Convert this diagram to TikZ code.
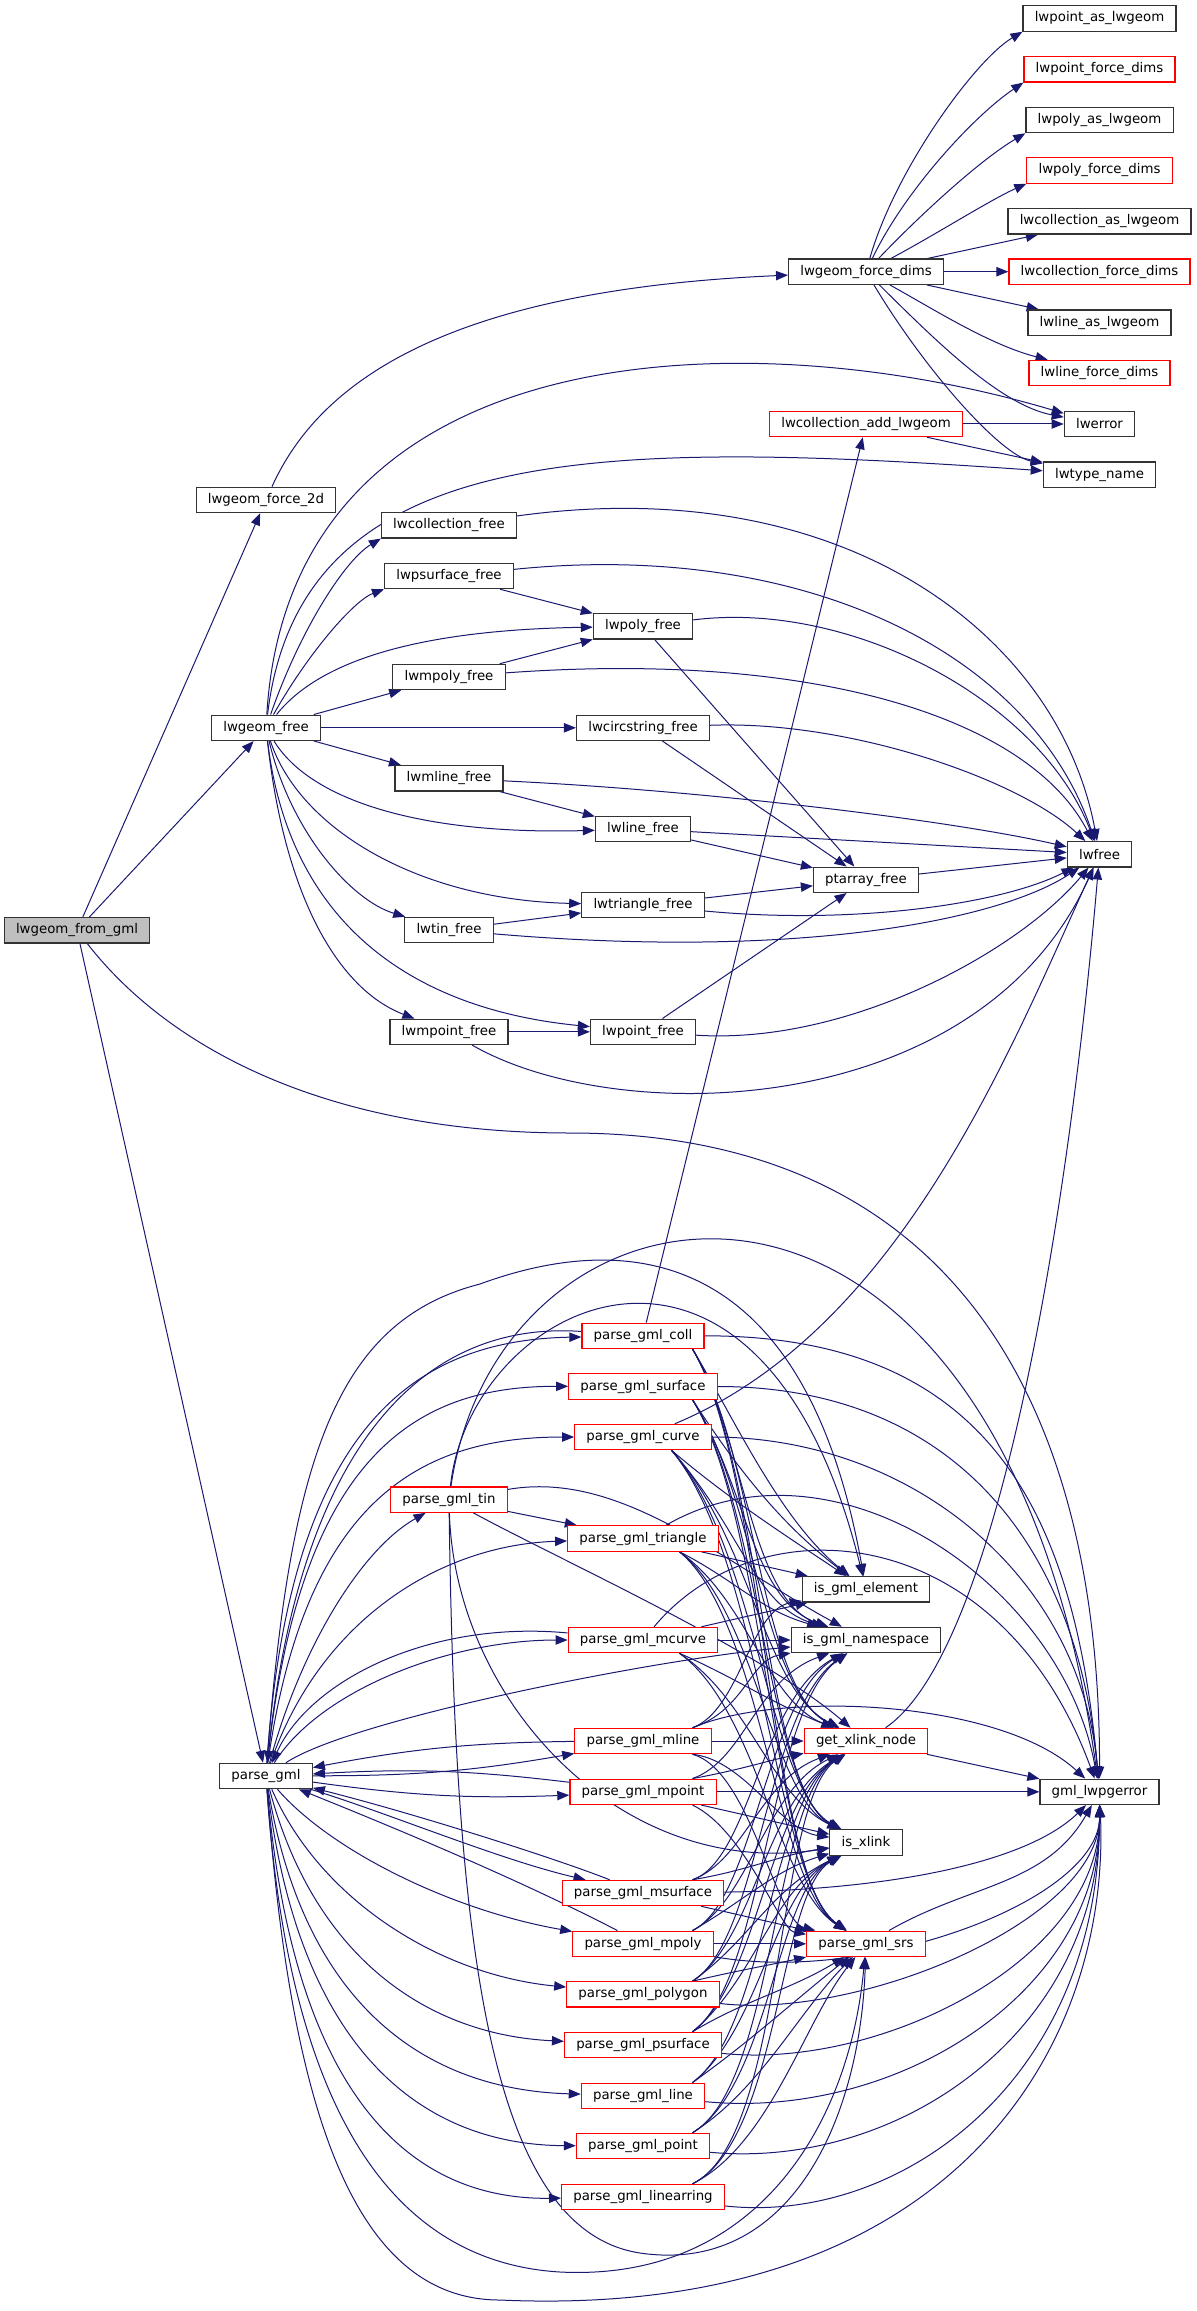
\documentclass[tikz,border=0pt]{standalone}
\usepackage{fontspec}
\setmainfont{DejaVu Sans}
\usetikzlibrary{arrows.meta}
\definecolor{edgeblue}{HTML}{191970}
\definecolor{boxline}{HTML}{333333}
\definecolor{selgray}{HTML}{BFBFBF}
\pgfdeclarelayer{edges}
\pgfsetlayers{edges,main}

\begin{document}
\begin{tikzpicture}[x=0.75pt, y=-0.75pt,
    fn/.style={draw=boxline, line width=0.9pt, fill=white, inner xsep=8.8pt, inner ysep=0pt,
      minimum height=19pt, font=\fontsize{10pt}{12pt}\selectfont},
    fnred/.style={fn, draw=red},
    fnsel/.style={fn, fill=selgray},
    call/.style={draw=edgeblue, line width=0.75pt, -{Triangle[length=9pt,width=7pt]}}]
    \useasboundingbox (0,0) rectangle (1196,2311);

    % right column
    \node[fn] (PAL) at (1099.5,18.5) {lwpoint\_as\_lwgeom};
    \node[fnred] (PFD) at (1099.5,69.3) {lwpoint\_force\_dims};
    \node[fn] (YAL) at (1099.5,120) {lwpoly\_as\_lwgeom};
    \node[fnred] (YFD) at (1099.5,170.5) {lwpoly\_force\_dims};
    \node[fn] (CAL) at (1099.5,221.4) {lwcollection\_as\_lwgeom};
    \node[fnred] (CFD) at (1099.5,271.7) {lwcollection\_force\_dims};
    \node[fn] (LAL) at (1099.5,322.6) {lwline\_as\_lwgeom};
    \node[fnred] (LFD) at (1099.5,373) {lwline\_force\_dims};
    \node[fn] (ERR) at (1099.5,424) {lwerror};
    \node[fn] (TN) at (1099.5,474.7) {lwtype\_name};
    \node[fn] (FREE) at (1099.5,854.3) {lwfree};
    \node[fn] (ERRG) at (1099.5,1791.8) {gml\_lwpgerror};

    \node[fn] (FD) at (866,271.7) {lwgeom\_force\_dims};
    \node[fnred] (CADD) at (866,424) {lwcollection\_add\_lwgeom};
    \node[fn] (PAF) at (866,879.8) {ptarray\_free};
    \node[fn] (ELE) at (866,1589.3) {is\_gml\_element};
    \node[fn] (NS) at (866,1640) {is\_gml\_namespace};
    \node[fnred] (XLN) at (866,1741) {get\_xlink\_node};
    \node[fn] (ISX) at (866,1842.5) {is\_xlink};
    \node[fnred] (SRS) at (866,1943.8) {parse\_gml\_srs};

    \node[fn] (YF) at (643,626.3) {lwpoly\_free};
    \node[fn] (CSF) at (643,727.8) {lwcircstring\_free};
    \node[fn] (LF) at (643,829) {lwline\_free};
    \node[fn] (TRF) at (643,905) {lwtriangle\_free};
    \node[fn] (PF) at (643,1031.8) {lwpoint\_free};
    \node[fnred] (COLL) at (643,1335.8) {parse\_gml\_coll};
    \node[fnred] (SURF) at (643,1386.5) {parse\_gml\_surface};
    \node[fnred] (CURV) at (643,1437) {parse\_gml\_curve};
    \node[fnred] (TRI) at (643,1538.5) {parse\_gml\_triangle};
    \node[fnred] (MCUR) at (643,1640) {parse\_gml\_mcurve};
    \node[fnred] (MLIN) at (643,1741) {parse\_gml\_mline};
    \node[fnred] (MPT) at (643,1791.8) {parse\_gml\_mpoint};
    \node[fnred] (MSRF) at (643,1893) {parse\_gml\_msurface};
    \node[fnred] (MPLY) at (643,1943.8) {parse\_gml\_mpoly};
    \node[fnred] (PLY) at (643,1994.4) {parse\_gml\_polygon};
    \node[fnred] (PSRF) at (643,2045) {parse\_gml\_psurface};
    \node[fnred] (LIN) at (643,2095.8) {parse\_gml\_line};
    \node[fnred] (PT) at (643,2146) {parse\_gml\_point};
    \node[fnred] (LR) at (643,2197) {parse\_gml\_linearring};

    \node[fn] (CFR) at (449,525.3) {lwcollection\_free};
    \node[fn] (PSF) at (449,576) {lwpsurface\_free};
    \node[fn] (MYF) at (449,677) {lwmpoly\_free};
    \node[fn] (MLF) at (449,778.3) {lwmline\_free};
    \node[fn] (TINF) at (449,930) {lwtin\_free};
    \node[fn] (MPF) at (449,1031.8) {lwmpoint\_free};
    \node[fnred] (TIN) at (449,1499.6) {parse\_gml\_tin};

    \node[fn] (F2D) at (266,500) {lwgeom\_force\_2d};
    \node[fn] (GFR) at (266,727.8) {lwgeom\_free};
    \node[fn] (PG) at (266,1776) {parse\_gml};
    \node[fnsel] (FG) at (77,930.3) {lwgeom\_from\_gml};

    \begin{pgfonlayer}{edges}
    % lwgeom_from_gml
    \draw[call] (FG) -- (F2D);
    \draw[call] (FG) -- (GFR);
    \draw[call] (FG) -- (PG);
    \draw[call] (FG) .. controls (170,1050) and (330,1133) .. (570,1133) .. controls (950,1133) and (1100,1400) .. (ERRG);

    % force dims
    \draw[call] (F2D) .. controls (320,380) and (450,290) .. (FD);
    \draw[call] (FD) .. controls (895,170) and (975,60) .. (PAL.south west);
    \draw[call] (FD) .. controls (905,190) and (975,115) .. (PFD.south west);
    \draw[call] (FD) .. controls (920,215) and (980,160) .. (YAL.south west);
    \draw[call] (FD) .. controls (935,235) and (990,200) .. (YFD.south west);
    \draw[call] (FD) -- (CAL);
    \draw[call] (FD) -- (CFD);
    \draw[call] (FD) -- (LAL);
    \draw[call] (FD) .. controls (935,310) and (990,345) .. (LFD);
    \draw[call] (FD) .. controls (935,340) and (1000,405) .. (ERR);
    \draw[call] (FD) .. controls (925,370) and (1000,455) .. (TN);
    \draw[call] (CADD) -- (ERR);
    \draw[call] (CADD) -- (TN);

    % lwgeom_free
    \draw[call] (GFR) .. controls (290,330) and (750,320) .. (ERR);
    \draw[call] (GFR) .. controls (300,440) and (600,440) .. (TN);
    \draw[call] (GFR) .. controls (300,630) and (345,560) .. (CFR.south west);
    \draw[call] (GFR) .. controls (310,650) and (355,600) .. (PSF.south west);
    \draw[call] (GFR) .. controls (320,660) and (420,630) .. (YF);
    \draw[call] (GFR) -- (MYF);
    \draw[call] (GFR) -- (CSF);
    \draw[call] (GFR) -- (MLF);
    \draw[call] (GFR) .. controls (310,800) and (420,835) .. (LF);
    \draw[call] (GFR) .. controls (300,830) and (420,900) .. (TRF);
    \draw[call] (GFR) .. controls (290,830) and (350,900) .. (TINF);
    \draw[call] (GFR) .. controls (290,930) and (420,1010) .. (PF);
    \draw[call] (GFR) .. controls (285,900) and (340,990) .. (MPF);

    % the free functions
    \draw[call] (CFR) .. controls (850,470) and (1060,640) .. (FREE);
    \draw[call] (PSF) .. controls (800,540) and (1030,650) .. (FREE);
    \draw[call] (PSF) -- (YF);
    \draw[call] (MYF) -- (YF);
    \draw[call] (MYF) .. controls (820,650) and (1030,720) .. (FREE);
    \draw[call] (YF) .. controls (850,600) and (1040,700) .. (FREE);
    \draw[call] (YF) -- (PAF);
    \draw[call] (CSF) .. controls (850,720) and (1020,780) .. (FREE);
    \draw[call] (CSF) -- (PAF);
    \draw[call] (MLF) .. controls (700,790) and (950,820) .. (FREE);
    \draw[call] (MLF) -- (LF);
    \draw[call] (LF) -- (FREE);
    \draw[call] (LF) -- (PAF);
    \draw[call] (TRF) -- (PAF);
    \draw[call] (TRF) .. controls (850,925) and (1000,905) .. (FREE);
    \draw[call] (TINF) -- (TRF);
    \draw[call] (TINF) .. controls (800,960) and (1000,920) .. (FREE);
    \draw[call] (PF) -- (PAF);
    \draw[call] (PF) .. controls (850,1045) and (1020,950) .. (FREE);
    \draw[call] (MPF) -- (PF);
    \draw[call] (MPF) .. controls (620,1130) and (980,1120) .. (FREE);
    \draw[call] (PAF) -- (FREE);

    % parse_gml
    \draw[call] (PG) .. controls (290,1420) and (420,1340) .. (COLL);
    \draw[call] (COLL) .. controls (420,1320) and (300,1450) .. (PG);
    \draw[call] (PG) .. controls (300,1450) and (420,1386) .. (SURF);
    \draw[call] (PG) .. controls (305,1500) and (420,1437) .. (CURV);
    \draw[call] (PG) .. controls (300,1650) and (360,1550) .. (TIN);
    \draw[call] (PG) .. controls (320,1620) and (440,1545) .. (TRI);
    \draw[call] (MCUR) .. controls (430,1620) and (310,1680) .. (PG);
    \draw[call] (PG) .. controls (320,1690) and (450,1640) .. (MCUR);
    \draw[call] (PG) .. controls (290,1450) and (340,1320) .. (480,1284) .. controls (600,1240) and (800,1220) .. (ELE);
    \draw[call] (PG) .. controls (350,1720) and (650,1660) .. (NS);
    \draw[call] (PG) to[bend right=5] (MLIN);
    \draw[call] (MLIN) to[bend right=5] (PG);
    \draw[call] (PG) to[bend right=5] (MPT);
    \draw[call] (MPT) to[bend right=5] (PG);
    \draw[call] (PG) .. controls (380,1810) and (500,1860) .. (MSRF);
    \draw[call] (MSRF) .. controls (560,1860) and (420,1815) .. (PG);
    \draw[call] (PG) .. controls (330,1850) and (450,1910) .. (MPLY);
    \draw[call] (MPLY) .. controls (520,1880) and (400,1830) .. (PG);
    \draw[call] (PG) .. controls (320,1900) and (440,1975) .. (PLY);
    \draw[call] (PG) .. controls (315,1960) and (430,2035) .. (PSRF);
    \draw[call] (PG) .. controls (305,2010) and (430,2090) .. (LIN);
    \draw[call] (PG) .. controls (300,2060) and (430,2145) .. (PT);
    \draw[call] (PG) .. controls (295,2110) and (420,2200) .. (LR);
    \draw[call] (PG) .. controls (285,2050) and (360,2260) .. (560,2272) .. controls (760,2282) and (850,2120) .. (SRS);
    \draw[call] (PG) .. controls (290,2100) and (350,2300) .. (500,2300) .. controls (950,2320) and (1110,2050) .. (ERRG);

    % parse_gml_tin
    \draw[call] (TIN) -- (TRI);
    \draw[call] (TIN) .. controls (470,1300) and (760,1160) .. (ELE);
    \draw[call] (TIN) .. controls (500,1150) and (1000,1080) .. (ERRG);
    \draw[call] (TIN) .. controls (620,1470) and (720,1560) .. (NS);
    \draw[call] (TIN) .. controls (560,1560) and (760,1650) .. (XLN);
    \draw[call] (TIN) .. controls (455,1700) and (620,1880) .. (ISX);
    \draw[call] (TIN) .. controls (455,1950) and (490,2230) .. (640,2253) .. controls (790,2275) and (860,2120) .. (SRS);

    % parse_gml_coll, surface, curve, triangle
    \draw[call] (COLL) -- (CADD);
    \draw[call] (COLL.-15) .. controls (735,1420) and (780,1520) .. (ELE);
    \draw[call] (COLL.-15) .. controls (745,1440) and (750,1600) .. (NS);
    \draw[call] (COLL.-15) .. controls (755,1450) and (760,1690) .. (XLN);
    \draw[call] (COLL.-15) .. controls (760,1460) and (765,1790) .. (ISX);
    \draw[call] (COLL.-15) .. controls (765,1470) and (770,1880) .. (SRS);
    \draw[call] (COLL) to[out=0,in=95,looseness=1.2] (ERRG);
    \draw[call] (SURF.-15) .. controls (738,1470) and (782,1525) .. (ELE);
    \draw[call] (SURF.-15) .. controls (748,1490) and (752,1600) .. (NS);
    \draw[call] (SURF.-15) .. controls (757,1500) and (762,1690) .. (XLN);
    \draw[call] (SURF.-15) .. controls (762,1510) and (767,1790) .. (ISX);
    \draw[call] (SURF.-15) .. controls (767,1520) and (772,1880) .. (SRS);
    \draw[call] (SURF) to[out=0,in=95,looseness=1.1] (ERRG);
    \draw[call] (CURV.-25) .. controls (730,1500) and (785,1535) .. (ELE);
    \draw[call] (CURV.-25) .. controls (742,1530) and (754,1605) .. (NS);
    \draw[call] (CURV.-25) .. controls (752,1540) and (764,1690) .. (XLN);
    \draw[call] (CURV.-25) .. controls (758,1550) and (769,1790) .. (ISX);
    \draw[call] (CURV.-25) .. controls (763,1560) and (774,1880) .. (SRS);
    \draw[call] (CURV) to[out=0,in=95] (ERRG);
    \draw[call] (CURV) .. controls (900,1330) and (1010,1050) .. (FREE);
    \draw[call] (TRI) -- (ELE);
    \draw[call] (TRI.-20) .. controls (735,1580) and (760,1610) .. (NS);
    \draw[call] (TRI.-20) .. controls (748,1600) and (766,1700) .. (XLN);
    \draw[call] (TRI.-20) .. controls (756,1610) and (771,1795) .. (ISX);
    \draw[call] (TRI.-20) .. controls (762,1620) and (776,1885) .. (SRS);
    \draw[call] (TRI) to[out=30,in=100] (ERRG);

    % parse_gml_mcurve, mline, mpoint
    \draw[call] (MCUR) -- (ELE);
    \draw[call] (MCUR) -- (NS);
    \draw[call] (MCUR.-20) .. controls (740,1680) and (765,1700) .. (XLN);
    \draw[call] (MCUR.-20) .. controls (750,1700) and (770,1795) .. (ISX);
    \draw[call] (MCUR.-20) .. controls (758,1710) and (776,1885) .. (SRS);
    \draw[call] (MCUR) .. controls (760,1500) and (1000,1520) .. (ERRG);
    \draw[call] (MLIN.15) .. controls (740,1710) and (750,1610) .. (ELE);
    \draw[call] (MLIN.15) .. controls (745,1710) and (750,1660) .. (NS);
    \draw[call] (MLIN) -- (XLN);
    \draw[call] (MLIN.-15) .. controls (745,1760) and (780,1830) .. (ISX);
    \draw[call] (MLIN.-15) .. controls (750,1770) and (775,1920) .. (SRS);
    \draw[call] (MLIN.15) .. controls (780,1690) and (1000,1700) .. (ERRG);
    \draw[call] (MPT.15) .. controls (745,1760) and (755,1680) .. (NS);
    \draw[call] (MPT.15) .. controls (740,1770) and (770,1760) .. (XLN);
    \draw[call] (MPT) -- (ISX);
    \draw[call] (MPT.-15) .. controls (745,1830) and (780,1930) .. (SRS);
    \draw[call] (MPT) -- (ERRG);

    % parse_gml_msurface, mpoly
    \draw[call] (MSRF.15) .. controls (750,1860) and (760,1700) .. (NS);
    \draw[call] (MSRF.15) .. controls (745,1860) and (760,1780) .. (XLN);
    \draw[call] (MSRF.15) .. controls (750,1870) and (780,1855) .. (ISX);
    \draw[call] (MSRF) -- (SRS);
    \draw[call] (MSRF) .. controls (900,1890) and (1030,1860) .. (ERRG);
    \draw[call] (MPLY.15) .. controls (755,1900) and (765,1700) .. (NS);
    \draw[call] (MPLY.15) .. controls (750,1900) and (765,1790) .. (XLN);
    \draw[call] (MPLY.15) .. controls (745,1900) and (775,1870) .. (ISX);
    \draw[call] (MPLY) -- (SRS);
    \draw[call] (MPLY) .. controls (870,1985) and (1100,1900) .. (ERRG);

    % parse_gml_polygon, psurface, line, point, linearring
    \draw[call] (PLY.15) .. controls (760,1940) and (765,1710) .. (NS);
    \draw[call] (PLY.15) .. controls (755,1940) and (765,1800) .. (XLN);
    \draw[call] (PLY.15) .. controls (750,1940) and (770,1890) .. (ISX);
    \draw[call] (PLY.15) .. controls (740,1970) and (770,1965) .. (SRS);
    \draw[call] (PLY) .. controls (860,2020) and (1100,1920) .. (ERRG);
    \draw[call] (PSRF.15) .. controls (765,1980) and (768,1710) .. (NS);
    \draw[call] (PSRF.15) .. controls (760,1980) and (768,1800) .. (XLN);
    \draw[call] (PSRF.15) .. controls (755,1980) and (772,1890) .. (ISX);
    \draw[call] (PSRF.15) .. controls (745,2000) and (790,1990) .. (SRS);
    \draw[call] (PSRF) .. controls (880,2070) and (1100,1960) .. (ERRG);
    \draw[call] (LIN.15) .. controls (765,2030) and (770,1800) .. (XLN);
    \draw[call] (LIN.15) .. controls (760,2030) and (774,1890) .. (ISX);
    \draw[call] (LIN.15) .. controls (752,2040) and (795,2000) .. (SRS);
    \draw[call] (LIN) .. controls (900,2120) and (1100,1990) .. (ERRG);
    \draw[call] (PT.15) .. controls (775,2085) and (772,1800) .. (XLN);
    \draw[call] (PT.15) .. controls (770,2085) and (776,1890) .. (ISX);
    \draw[call] (PT.15) .. controls (760,2090) and (800,2010) .. (SRS);
    \draw[call] (PT) .. controls (900,2170) and (1100,2030) .. (ERRG);
    \draw[call] (LR.15) .. controls (785,2140) and (775,1800) .. (XLN);
    \draw[call] (LR.15) .. controls (780,2140) and (778,1890) .. (ISX);
    \draw[call] (LR.15) .. controls (770,2145) and (805,2020) .. (SRS);
    \draw[call] (LR) .. controls (900,2225) and (1100,2080) .. (ERRG);

    % helpers
    \draw[call] (XLN) -- (ERRG);
    \draw[call] (XLN) .. controls (1000,1650) and (1070,1200) .. (FREE);
    \draw[call] (SRS) to[out=30,in=-120] (ERRG);
    \end{pgfonlayer}
\end{tikzpicture}
\end{document}
